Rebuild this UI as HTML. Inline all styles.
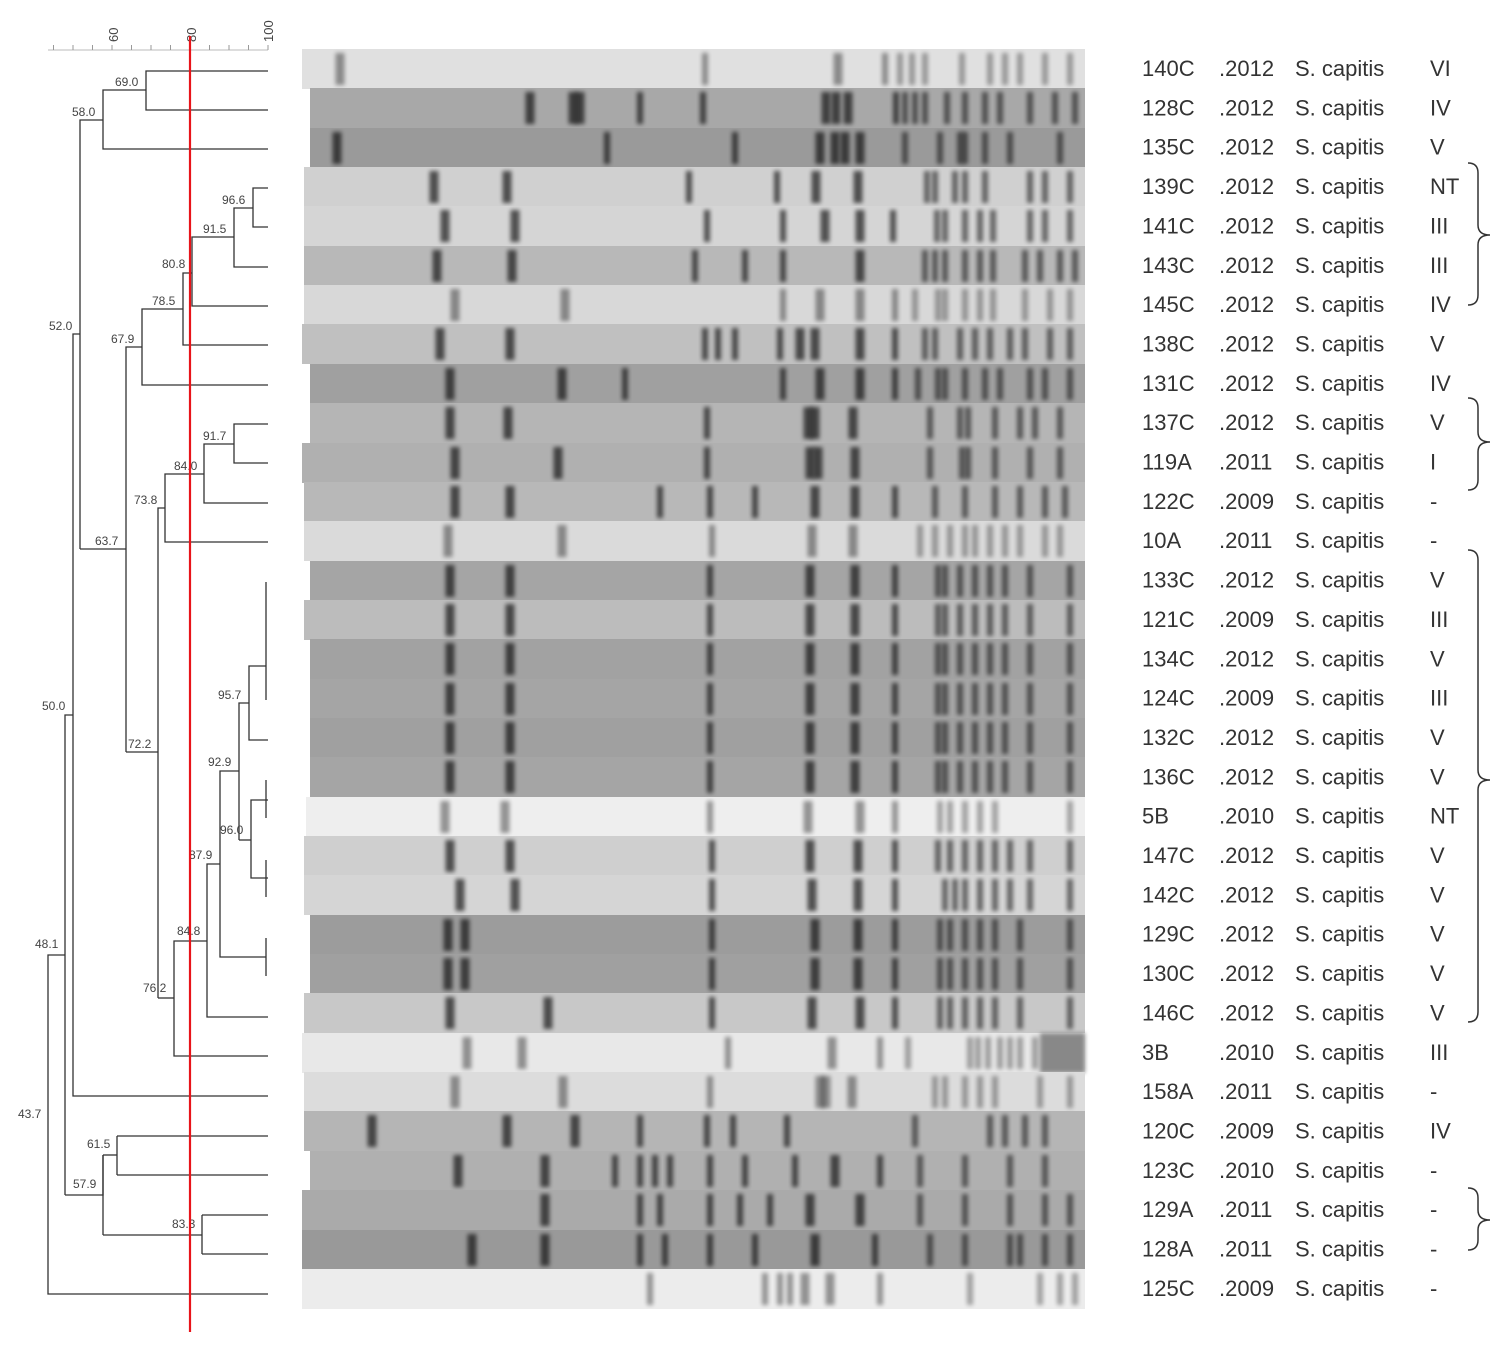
<!DOCTYPE html>
<html><head><meta charset="utf-8"><style>
html,body{margin:0;padding:0;background:#fff;}
#wrap{position:relative;width:1512px;height:1352px;overflow:hidden;}
svg{position:absolute;left:0;top:0;}
</style></head><body><div id="wrap">
<svg id="s" width="1512" height="1352" xmlns="http://www.w3.org/2000/svg">
<defs><filter id="b" x="-60%" y="-10%" width="220%" height="120%"><feGaussianBlur stdDeviation="2 2"/></filter></defs>
<g id="gel"></g>
<g stroke="#bbb" stroke-width="1" fill="none">
<line x1="48" y1="50" x2="268" y2="50"/>
</g>
<g id="ticks" stroke="#999" stroke-width="1"></g>
<g font-family="Liberation Sans, sans-serif" font-size="13" fill="#444">
<text transform="translate(118,42) rotate(-90)">60</text>
<text transform="translate(196,42) rotate(-90)">80</text>
<text transform="translate(273,42) rotate(-90)">100</text>
</g>
<g stroke="#333" stroke-width="1.3" fill="none" id="den"></g>
<g font-family="Liberation Sans, sans-serif" font-size="12" fill="#444">
<text x="115" y="86">69.0</text><text x="72" y="116">58.0</text>
<text x="222" y="204">96.6</text><text x="203" y="233">91.5</text>
<text x="162" y="268">80.8</text><text x="152" y="305">78.5</text>
<text x="111" y="343">67.9</text><text x="49" y="330">52.0</text>
<text x="203" y="440">91.7</text><text x="174" y="470">84.0</text>
<text x="134" y="504">73.8</text><text x="95" y="545">63.7</text>
<text x="218" y="699">95.7</text><text x="42" y="710">50.0</text>
<text x="128" y="748">72.2</text><text x="208" y="766">92.9</text>
<text x="220" y="834">96.0</text><text x="189" y="859">87.9</text>
<text x="177" y="935">84.8</text><text x="35" y="948">48.1</text>
<text x="143" y="992">76.2</text><text x="18" y="1118">43.7</text>
<text x="87" y="1148">61.5</text><text x="73" y="1188">57.9</text>
<text x="172" y="1228">83.3</text>
</g>
<line x1="190" y1="36" x2="190" y2="1332" stroke="#e8141a" stroke-width="2.2"/>
<g id="txt" font-family="Liberation Sans, sans-serif" font-size="22" fill="#333"></g>
<g stroke="#333" stroke-width="1.5" fill="none">
<path d="M1468,163 q10,0 10,10 v52 q0,10 12,10 q-12,0 -12,10 v50 q0,10 -10,10"/>
<path d="M1468,398 q10,0 10,10 v24 q0,10 12,10 q-12,0 -12,10 v28 q0,10 -10,10"/>
<path d="M1468,550 q10,0 10,10 v210 q0,10 12,10 q-12,0 -12,10 v222 q0,10 -10,10"/>
<path d="M1468,1188 q10,0 10,10 v12 q0,10 12,10 q-12,0 -12,10 v10 q0,10 -10,10"/>
</g>
</svg>
</div>
<script>
var NS="http://www.w3.org/2000/svg";
function el(p,t,a,tx){var e=document.createElementNS(NS,t);for(var k in a)e.setAttribute(k,a[k]);if(tx)e.textContent=tx;p.appendChild(e);return e;}
var tk=document.getElementById("ticks");
for(var i=0;i<12;i++){var x=53.5+i*19.5;el(tk,"line",{x1:x,y1:45,x2:x,y2:50});}
var d=document.getElementById("den");
var P=[
"M268,71H146V110H268","M146,90H103V149H268","M103,120H80V549","M80,549H126",
"M268,188H253V227H268","M253,208H234V267H268","M234,237H192V306H268","M192,273H183V345H268",
"M183,309H142V385H268","M142,347H126V752",
"M268,424H234V463H268","M234,444H204V503H268","M204,474H165V542H268","M165,508H158V998",
"M158,752H126","M266,582V700","M266,666H249V740H268","M249,703H239V840",
"M266,780V818","M266,860V897","M268,800H251V878H268","M251,840H239","M239,771H220V957H266","M266,938V976",
"M220,864H207V1017H268","M207,941H174V1056H268","M174,998H158",
"M80,334H73V1096H268","M73,715H65V1195","M65,955H48V1294H268",
"M65,1195H103V1155","M103,1155V1235","M103,1155H117","M117,1136V1175","M268,1136H117","M117,1175H268",
"M103,1235H202","M202,1215V1254","M202,1215H268","M202,1254H268"
];
P.forEach(function(p){el(d,"path",{d:p});});
var ids=["140C","128C","135C","139C","141C","143C","145C","138C","131C","137C","119A","122C","10A","133C","121C","134C","124C","132C","136C","5B","147C","142C","129C","130C","146C","3B","158A","120C","123C","129A","128A","125C"];
var yrs=["2012","2012","2012","2012","2012","2012","2012","2012","2012","2012","2011","2009","2011","2012","2009","2012","2009","2012","2012","2010","2012","2012","2012","2012","2012","2010","2011","2009","2010","2011","2011","2009"];
var ty=["VI","IV","V","NT","III","III","IV","V","IV","V","I","-","-","V","III","V","III","V","V","NT","V","V","V","V","V","III","-","IV","-","-","-","-"];
var tg=document.getElementById("txt");
for(var i=0;i<32;i++){var y=76+39.35*i;
el(tg,"text",{x:1142,y:y},ids[i]);el(tg,"text",{x:1219,y:y},"."+yrs[i]);
el(tg,"text",{x:1295,y:y},"S. capitis");el(tg,"text",{x:1430,y:y},ty[i]);}
var bg=[224,168,154,208,213,184,216,192,160,181,176,184,218,165,188,162,165,160,165,238,207,213,156,160,200,232,220,181,176,170,153,236];
var xs=[302,310,310,304,304,304,304,302,310,310,302,304,304,310,304,310,310,310,310,306,304,304,310,310,304,302,304,304,310,302,302,302];
var std=[450,510,710,810,855,895,938,945,960,975,990,1005,1030,1070];
var B=[
[340,705,838,885,900,912,925,962,990,1005,1020,1045,1070],
[530,573,580,640,703,826,836,848,896,905,915,925,947,965,985,1000,1030,1055,1075],
[337,607,735,820,835,845,860,905,940,960,965,985,1010,1060],
[434,507,689,777,816,858,927,935,955,965,985,1030,1045,1070],
[445,515,707,783,825,860,893,937,945,965,980,993,1030,1045,1070],
[437,512,695,745,783,860,925,935,945,965,980,993,1025,1040,1060,1075],
[455,565,783,820,860,895,915,938,945,965,980,993,1025,1050,1070],
[440,510,705,718,735,780,800,815,860,895,925,935,960,975,990,1010,1025,1050,1070],
[450,562,625,783,820,860,895,918,938,945,965,985,1000,1030,1045,1070],
[450,508,707,808,815,853,930,960,968,995,1020,1035,1060],
[455,558,707,810,818,855,930,962,968,995,1030,1060],
[455,510,660,710,755,815,855,895,935,965,995,1020,1045,1065],
[448,562,712,812,853,920,935,950,965,975,990,1005,1020,1045,1060],
std,std,std,std,std,std,
[445,505,710,808,860,895,940,950,965,980,995,1070],
[450,510,712,810,858,895,938,950,965,980,995,1010,1030,1070],
[460,515,712,812,858,895,945,955,965,980,995,1010,1030,1070],
[448,465,712,815,858,895,940,950,965,980,995,1020,1070],
[448,465,712,815,858,895,940,950,965,980,995,1020,1070],
[450,548,712,812,860,895,940,950,965,980,995,1020,1070],
[467,522,728,832,880,908,970,978,988,1000,1010,1020,1035],
[455,563,710,820,826,852,935,945,965,980,995,1040,1070],
[372,507,575,640,707,733,787,915,990,1005,1025,1045],
[458,545,615,640,655,670,710,745,795,835,880,920,965,1010,1045],
[545,640,660,710,740,770,810,860,920,965,1010,1045,1070],
[472,545,640,665,710,755,815,875,930,965,1010,1020,1045,1070],
[650,765,780,790,805,830,880,970,1040,1060,1075]
];
var g=document.getElementById("gel");
for(var i=0;i<32;i++){var y0=Math.round(49+39.35*i),h=40;var c=bg[i];
el(g,"rect",{x:xs[i],y:y0,width:1085-xs[i],height:h,fill:"rgb("+c+","+c+","+c+")"});
if(i==25){el(g,"rect",{x:1040,y:y0,width:45,height:h,fill:"#888",filter:"url(#b)"});}
var op=(c>215)?0.38:0.62;
B[i].forEach(function(x,j){var w=(x<600||x>=800&&x<=860)?9:6;
el(g,"rect",{x:x-w/2,y:y0+4,width:w,height:h-8,fill:"#000",opacity:op*(x<900?1:0.85),filter:"url(#b)"});});
}
</script>
</body></html>
